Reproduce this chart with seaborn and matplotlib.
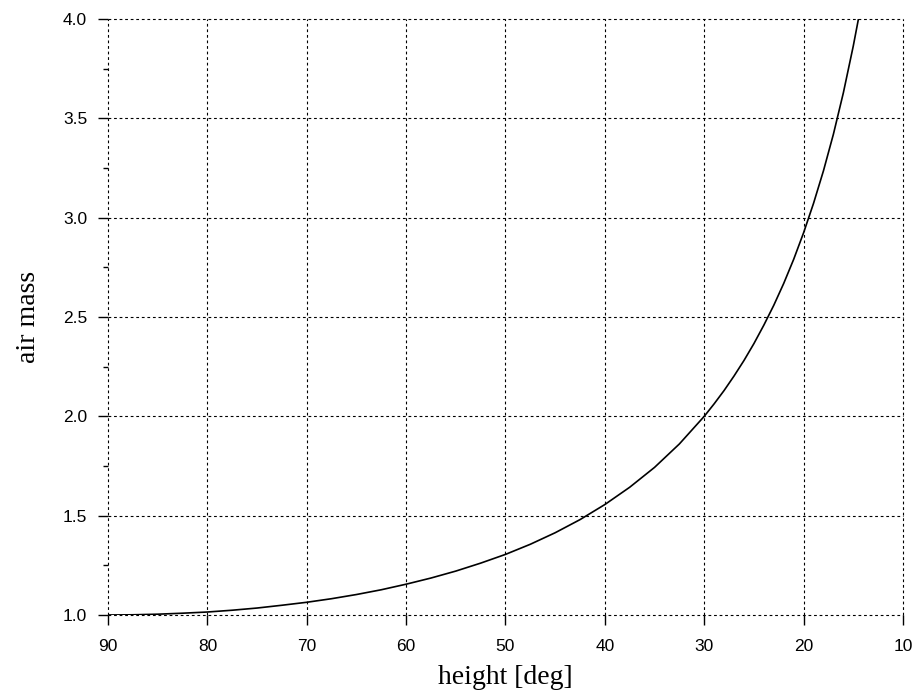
import matplotlib
matplotlib.use("Agg")
import matplotlib.pyplot as plt
import seaborn as sns
import pandas as pd
from matplotlib.ticker import MultipleLocator

# data
height_deg = [90, 87.5, 85, 82.5, 80, 77.5, 75, 72.5, 70, 67.5, 65, 62.5, 60,
              57.5, 55, 52.5, 50, 47.5, 45, 42.5, 40, 37.5, 35, 32.5, 30,
              29, 28, 27, 26, 25, 24, 23, 22, 21, 20, 19, 18, 17, 16, 15,
              14.5, 14.0]
air_mass = [1.000, 1.001, 1.004, 1.009, 1.015, 1.024, 1.035, 1.049, 1.064,
            1.082, 1.103, 1.127, 1.155, 1.186, 1.221, 1.261, 1.305, 1.356,
            1.414, 1.480, 1.556, 1.643, 1.743, 1.861, 2.000, 2.063, 2.130,
            2.203, 2.281, 2.366, 2.459, 2.559, 2.669, 2.790, 2.924, 3.072,
            3.236, 3.420, 3.628, 3.864, 3.995, 4.13]
x_ticks = [90, 80, 70, 60, 50, 40, 30, 20, 10]
y_ticks = [1.0, 1.5, 2.0, 2.5, 3.0, 3.5, 4.0]

df = pd.DataFrame({"height": height_deg, "airmass": air_mass})

sns.set_theme(style="white")
plt.rcParams["font.family"] = ["Liberation Sans", "DejaVu Sans"]

fig = plt.figure(figsize=(9.13, 6.91), dpi=100)
ax = fig.add_axes([0.1183, 0.110, 0.8707, 0.8625])

sns.lineplot(data=df, x="height", y="airmass", ax=ax, color="black",
             linewidth=1.2, sort=False, estimator=None)

ax.set_xlim(90, 10)
ax.set_ylim(1.0, 4.0)
ax.set_xticks(x_ticks)
ax.set_yticks(y_ticks)
ax.set_xticklabels([str(t) for t in x_ticks])
ax.set_yticklabels([f"{t:.1f}" for t in y_ticks])
ax.yaxis.set_minor_locator(MultipleLocator(0.25))

for s in ax.spines.values():
    s.set_visible(False)

ax.grid(True, which="major", color="black", linewidth=0.8,
        linestyle=(0, (2.5, 2.5)))
for gl in ax.get_xgridlines() + ax.get_ygridlines():
    gl.set_clip_on(False)
ax.tick_params(axis="both", which="major", direction="out", length=7,
               width=1.0, color="black", labelcolor="black", labelsize=12.5,
               bottom=True, left=True)
ax.tick_params(axis="x", which="major", pad=10)
ax.tick_params(axis="y", which="major", pad=8)
ax.tick_params(axis="y", which="minor", direction="out", length=3.5,
               width=1.0, color="black", left=True)

ax.set_xlabel("height [deg]", family=["Liberation Serif", "DejaVu Serif"],
              fontsize=20, labelpad=8, color="black")
ax.set_ylabel("air mass", family=["Liberation Serif", "DejaVu Serif"],
              fontsize=20, labelpad=16, color="black")

fig.savefig("out.png", dpi=100)
